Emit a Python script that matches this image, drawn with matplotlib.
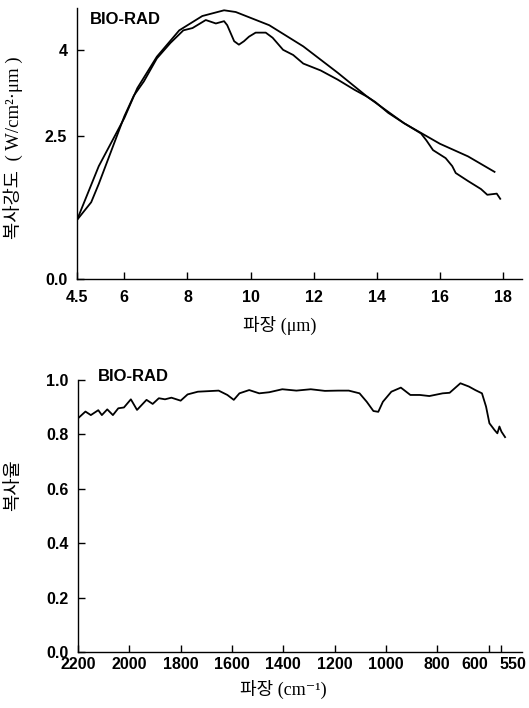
import matplotlib
matplotlib.use("Agg")
import matplotlib.pyplot as plt
import matplotlib.transforms as mtransforms

plt.rcParams['font.family'] = ['Liberation Sans', 'Noto Sans CJK KR', 'DejaVu Sans']

# Top panel: blackbody (smooth) and measured radiance
bb_x = [4.5, 5.19, 6.0, 6.41, 7.03, 7.74, 8.47, 9.16, 9.53, 10.59, 11.67, 12.76, 13.7, 14.86, 16.0, 16.89, 17.73]
bb_y = [1.03, 1.97, 2.81, 3.33, 3.88, 4.34, 4.59, 4.69, 4.66, 4.43, 4.06, 3.60, 3.18, 2.72, 2.36, 2.14, 1.87]

meas_x = [4.5, 4.95, 5.19, 6.0, 6.3, 6.62, 7.03, 7.46, 7.87, 8.16, 8.58, 8.9, 9.16, 9.26, 9.48, 9.63,
          9.79, 9.95, 10.16, 10.48, 10.7, 11.03, 11.35, 11.67, 12.22, 12.76, 13.3, 13.7, 13.95, 14.36,
          14.86, 15.4, 15.57, 15.78, 16.18, 16.39, 16.5, 16.89, 17.3, 17.5, 17.8, 17.91]
meas_y = [1.03, 1.34, 1.66, 2.84, 3.20, 3.45, 3.85, 4.12, 4.34, 4.38, 4.52, 4.46, 4.50, 4.43, 4.15, 4.09,
          4.15, 4.23, 4.30, 4.30, 4.21, 4.00, 3.91, 3.76, 3.64, 3.48, 3.30, 3.18, 3.09, 2.90,
          2.72, 2.54, 2.42, 2.25, 2.11, 1.97, 1.85, 1.71, 1.57, 1.47, 1.49, 1.40]

top_xticks = [4.5, 6, 8, 10, 12, 14, 16, 18]
top_xticklabels = ["4.5", "6", "8", "10", "12", "14", "16", "18"]
top_yticks = [0.0, 2.5, 4.0]
top_yticklabels = ["0.0", "2.5", "4"]

# Bottom panel: emissivity vs wavenumber
em_x = [2200, 2171, 2150, 2121, 2107, 2086, 2064, 2043, 2021, 1994, 1970, 1933, 1909, 1885, 1861, 1836,
        1800, 1773, 1733, 1692, 1652, 1618, 1593, 1571, 1533, 1494, 1455, 1404, 1349, 1293, 1238, 1186,
        1145, 1103, 1075, 1049, 1030, 1012, 979, 942, 905, 868, 831, 779, 752, 710, 677, 652, 626,
        610, 597, 577, 566, 558, 550, 536]
em_y = [0.859, 0.884, 0.871, 0.889, 0.871, 0.892, 0.871, 0.896, 0.899, 0.929, 0.890, 0.927, 0.912, 0.933,
        0.929, 0.935, 0.924, 0.947, 0.957, 0.959, 0.961, 0.945, 0.927, 0.951, 0.963, 0.951, 0.955, 0.966,
        0.961, 0.966, 0.960, 0.961, 0.961, 0.951, 0.920, 0.886, 0.883, 0.920, 0.957, 0.972, 0.945, 0.945,
        0.941, 0.951, 0.953, 0.988, 0.976, 0.963, 0.951, 0.902, 0.841, 0.816, 0.804, 0.829, 0.810, 0.790]

bot_xticks = [2200, 2000, 1800, 1600, 1400, 1200, 1000, 800, 600, 550]
bot_yticks = [0.0, 0.2, 0.4, 0.6, 0.8, 1.0]

W, H = 529, 708
fig = plt.figure(figsize=(W / 100, H / 100), dpi=100)

KFONT = ['Liberation Serif', 'Noto Sans CJK KR', 'DejaVu Sans']


def style(ax, xpad, ypad):
    for s in ['top', 'right']:
        ax.spines[s].set_visible(False)
    for s in ['left', 'bottom']:
        ax.spines[s].set_linewidth(1.0)
    ax.tick_params(direction='in', length=5, width=1.0, labelsize=11.5)
    ax.tick_params(axis='x', pad=xpad)
    ax.tick_params(axis='y', pad=ypad)
    for lab in ax.get_xticklabels() + ax.get_yticklabels():
        lab.set_fontweight('bold')


def px(x, y):
    return x / W, 1 - y / H


ax1 = fig.add_axes([77 / W, 1 - 279 / H, 445 / W, 271 / H])
ax1.plot(bb_x, bb_y, color='black', lw=1.3)
ax1.plot(meas_x, meas_y, color='black', lw=1.3)
ax1.set_xlim(4.5, 18.6)
ax1.set_ylim(0, 4.73)
ax1.set_xticks(top_xticks)
ax1.set_xticklabels(top_xticklabels)
ax1.set_yticks(top_yticks)
ax1.set_yticklabels(top_yticklabels)
style(ax1, 8, 7)
fig.text(*px(125, 19), "BIO-RAD", fontsize=12, fontweight='bold', ha='center', va='center')
fig.text(*px(280, 325), "파장 (μm)", fontsize=13, family=KFONT, ha='center', va='center')
fig.text(*px(14, 148), "복사강도  ( W/cm²·μm )", fontsize=13.5, family=KFONT,
         ha='center', va='center', rotation=90)

ax2 = fig.add_axes([78 / W, 1 - 652 / H, 444 / W, 272 / H])
ax2.plot(em_x, em_y, color='black', lw=1.3)
ax2.set_xlim(2200, 470)
ax2.set_ylim(0, 1.0)
ax2.set_xticks(bot_xticks)
ax2.set_xticklabels([str(v) for v in bot_xticks])
ax2.set_yticks(bot_yticks)
ax2.set_yticklabels([f"{v:.1f}" for v in bot_yticks])
style(ax2, 3.5, 7)
labs = ax2.get_xticklabels()
labs[-2].set_transform(labs[-2].get_transform() + mtransforms.ScaledTranslation(-14 / 100, 0, fig.dpi_scale_trans))
labs[-1].set_transform(labs[-1].get_transform() + mtransforms.ScaledTranslation(11 / 100, 0, fig.dpi_scale_trans))
fig.text(*px(133, 377), "BIO-RAD", fontsize=12, fontweight='bold', ha='center', va='center')
fig.text(*px(283, 689), "파장 (cm⁻¹)", fontsize=13, family=KFONT, ha='center', va='center')
fig.text(*px(14, 485), "복사율", fontsize=13.5, family=KFONT, ha='center', va='center', rotation=90)

fig.savefig("out.png", dpi=100)
